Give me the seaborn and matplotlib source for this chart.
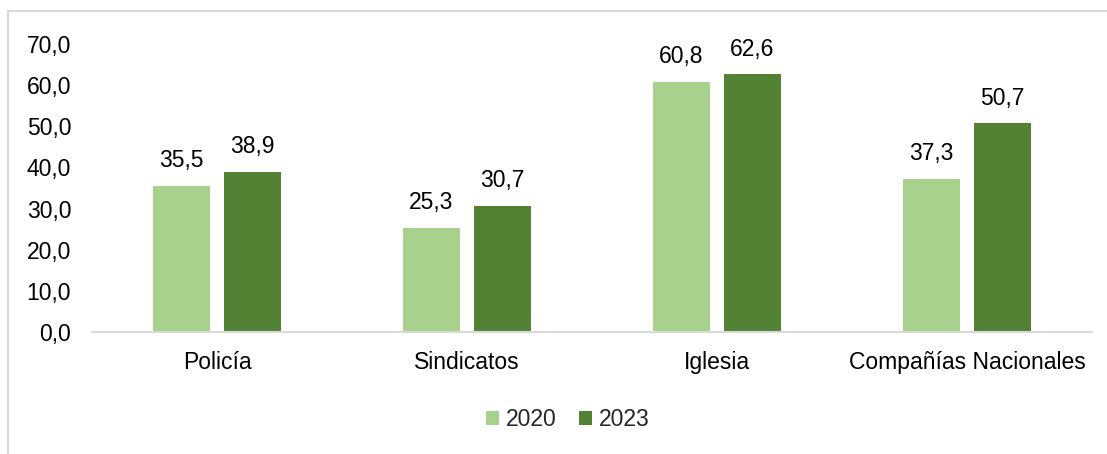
import matplotlib
matplotlib.use("Agg")
import matplotlib.pyplot as plt
import matplotlib.patches as mpatches
import seaborn as sns
import pandas as pd

categories = ["Policía", "Sindicatos", "Iglesia", "Compañías Nacionales"]
years = ["2020", "2023"]
values_2020 = [35.5, 25.3, 60.8, 37.3]
values_2023 = [38.9, 30.7, 62.6, 50.7]
y_ticks = [0, 10, 20, 30, 40, 50, 60, 70]

colors = {"2020": "#A9D18E", "2023": "#548235"}

df = pd.DataFrame({
    "categoria": categories * 2,
    "año": ["2020"] * len(categories) + ["2023"] * len(categories),
    "valor": values_2020 + values_2023,
})

sns.set_theme(style="white")
plt.rcParams["font.family"] = ["Liberation Sans", "DejaVu Sans"]

FS = 16.5

fig = plt.figure(figsize=(11.07, 4.54), dpi=100)
ax = fig.add_axes([92 / 1107, 1 - 332 / 454, 1000 / 1107, (332 - 44) / 454])

sns.barplot(data=df, x="categoria", y="valor", hue="año", hue_order=years,
            palette=colors, width=0.568, gap=0.21, ax=ax, saturation=1,
            errorbar=None, legend=True, linewidth=0)

for cont in ax.containers:
    ax.bar_label(cont, labels=[f"{v:.1f}".replace(".", ",") for v in cont.datavalues],
                 padding=10, fontsize=FS, color="#000000")

ax.set_ylim(0, 70)
ax.set_yticks(y_ticks)
ax.set_yticklabels([f"{t:.1f}".replace(".", ",") for t in y_ticks], fontsize=FS, color="#000000")
ax.tick_params(axis="x", labelsize=FS, colors="#000000", length=0, pad=14)
ax.tick_params(axis="y", length=0, pad=15)
ax.set_xlabel("")
ax.set_ylabel("")
for side in ["top", "right", "left"]:
    ax.spines[side].set_visible(False)
ax.spines["bottom"].set_color("#D9D9D9")
ax.spines["bottom"].set_linewidth(1.5)
ax.set_xlim(-0.5, 3.5)

handles, labels = ax.get_legend_handles_labels()
ax.legend(handles, labels, loc="center", bbox_to_anchor=(568 / 1107, 1 - 420 / 454),
          bbox_transform=fig.transFigure, ncol=2, frameon=False, fontsize=FS,
          handlelength=0.55, handleheight=0.55, handletextpad=0.3, columnspacing=1.0)

# outer chart frame
frame = mpatches.Rectangle((8 / 1107, -0.1), 1.2, (1 - 11 / 454) + 0.1,
                           transform=fig.transFigure, fill=False,
                           edgecolor="#D9D9D9", linewidth=1.5, clip_on=False)
fig.patches.append(frame)

fig.savefig("out.png", dpi=100)
